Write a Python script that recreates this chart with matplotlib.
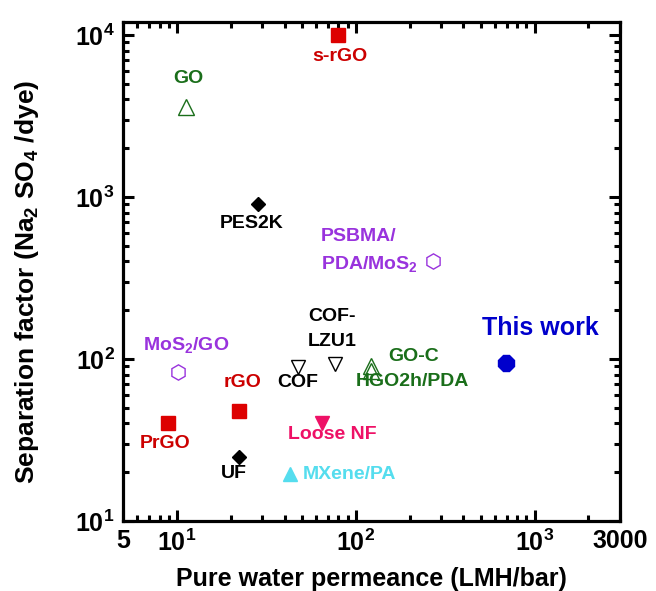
import matplotlib
matplotlib.use("Agg")
import matplotlib.pyplot as plt
from matplotlib.ticker import FixedLocator, LogLocator, NullFormatter

plt.rcParams['font.family'] = ['Liberation Sans', 'DejaVu Sans']
plt.rcParams['font.weight'] = 'bold'
plt.rcParams['mathtext.fontset'] = 'custom'
for k in ['rm', 'it', 'bf', 'sf']:
    plt.rcParams['mathtext.' + k] = 'Liberation Sans:bold'

# data
names = ["s-rGO", "GO", "PES2K", "PSBMA/PDA/MoS2", "MoS2/GO", "rGO", "PrGO", "UF",
         "COF", "COF-LZU1", "GO-C", "HGO2h/PDA", "Loose NF", "MXene/PA", "This work"]
permeance = [80, 11.2, 28.4, 270, 10.2, 22.3, 8.9, 22.3, 47.5, 77, 121, 121, 65, 43, 690]
separation = [10000, 3600, 900, 400, 83, 48, 40, 25, 89, 93, 90, 84, 40, 19.5, 95]

styles = {
    "s-rGO": dict(marker='s', mfc='#dd0000', mec='#dd0000', ms=10.5),
    "GO": dict(marker='^', mfc='none', mec='#1a6e1a', ms=11, mew=1),
    "PES2K": dict(marker='D', mfc='black', mec='black', ms=7.5),
    "PSBMA/PDA/MoS2": dict(marker='h', mfc='none', mec='#9933dd', ms=11, mew=1),
    "MoS2/GO": dict(marker='h', mfc='none', mec='#9933dd', ms=11, mew=1),
    "rGO": dict(marker='s', mfc='#dd0000', mec='#dd0000', ms=10.5),
    "PrGO": dict(marker='s', mfc='#dd0000', mec='#dd0000', ms=10.5),
    "UF": dict(marker='D', mfc='black', mec='black', ms=7.5),
    "COF": dict(marker='v', mfc='none', mec='black', ms=10, mew=1),
    "COF-LZU1": dict(marker='v', mfc='none', mec='black', ms=10, mew=1),
    "GO-C": dict(marker='^', mfc='none', mec='#1a6e1a', ms=11, mew=1),
    "HGO2h/PDA": dict(marker='^', mfc='none', mec='#1a6e1a', ms=11, mew=1),
    "Loose NF": dict(marker='v', mfc='#ee1166', mec='#ee1166', ms=10),
    "MXene/PA": dict(marker='^', mfc='#55ddee', mec='#55ddee', ms=10),
    "This work": dict(marker='8', mfc='#0000cc', mec='#0000cc', ms=13),
}

# (name, text, dx px, dy px (up), ha, colour, fontsize)
labels = [
    ("s-rGO", "s-rGO", 2, -22, 'center', '#cc0000', 14),
    ("GO", "GO", 3, 28, 'center', '#1a6e1a', 14),
    ("PES2K", "PES2K", -6, -19, 'center', 'black', 14),
    ("PSBMA/PDA/MoS2", "PSBMA/", -112, 25, 'left', '#9933dd', 14),
    ("PSBMA/PDA/MoS2", "PDA/MoS$_{2}$", -112, -3, 'left', '#9933dd', 14),
    ("MoS2/GO", "MoS$_{2}$/GO", 8, 27, 'center', '#9933dd', 14),
    ("rGO", "rGO", 3, 28, 'center', '#cc0000', 14),
    ("PrGO", "PrGO", -3, -20, 'center', '#cc0000', 14),
    ("UF", "UF", -5, -17, 'center', 'black', 14),
    ("COF", "COF", 0, -15, 'center', 'black', 14),
    ("COF-LZU1", "COF-", -3, 48, 'center', 'black', 14),
    ("COF-LZU1", "LZU1", -3, 23, 'center', 'black', 14),
    ("GO-C", "GO-C", 43, 10, 'center', '#1a6e1a', 14),
    ("HGO2h/PDA", "HGO2h/PDA", 42, -10, 'center', '#1a6e1a', 14),
    ("Loose NF", "Loose NF", 10, -11, 'center', '#ee1166', 14),
    ("MXene/PA", "MXene/PA", 13, 0, 'left', '#55ddee', 14),
    ("This work", "This work", 35, 35, 'center', '#0000cc', 18),
]

fig = plt.figure(figsize=(6.56, 5.91), dpi=100)
ax = fig.add_axes([0.1875, 0.1184, 0.7576, 0.8444])
ax.set_xscale('log')
ax.set_yscale('log')
ax.set_xlim(5, 3000)
ax.set_ylim(10, 1.2e4)

pos = {}
for n, x, y in zip(names, permeance, separation):
    ax.plot([x], [y], linestyle='none', **styles[n])
    pos[n] = (x, y)

for n, txt, dx, dy, ha, c, fs in labels:
    ax.annotate(txt, pos[n], xytext=(dx * 0.72, dy * 0.72), textcoords='offset points',
                ha=ha, va='center', color=c, fontsize=fs, fontweight='bold')

ax.xaxis.set_major_locator(FixedLocator([5, 10, 100, 1000, 3000]))
ax.set_xticklabels(['5', '$10^{1}$', '$10^{2}$', '$10^{3}$', '3000'])
ax.xaxis.set_minor_locator(LogLocator(base=10, subs=range(2, 10)))
ax.xaxis.set_minor_formatter(NullFormatter())
ax.yaxis.set_major_locator(FixedLocator([10, 100, 1000, 10000]))
ax.set_yticklabels(['$10^{1}$', '$10^{2}$', '$10^{3}$', '$10^{4}$'])
ax.yaxis.set_minor_locator(LogLocator(base=10, subs=range(2, 10)))
ax.yaxis.set_minor_formatter(NullFormatter())

ax.tick_params(which='both', direction='in', top=True, right=True, width=2.2,
               labelsize=18, pad=6)
ax.tick_params(which='major', length=8)
ax.tick_params(which='minor', length=4.5)
for lab in ax.get_xticklabels() + ax.get_yticklabels():
    lab.set_fontweight('bold')
for s in ax.spines.values():
    s.set_linewidth(2.3)

ax.set_xlabel('Pure water permeance (LMH/bar)', fontsize=18, fontweight='bold', labelpad=8)
ax.set_ylabel('Separation factor (Na$_{2}$ SO$_{4}$ /dye)', fontsize=19, fontweight='bold')
ax.yaxis.set_label_coords(-0.165, 0.48)

fig.savefig('out.png', dpi=100)
